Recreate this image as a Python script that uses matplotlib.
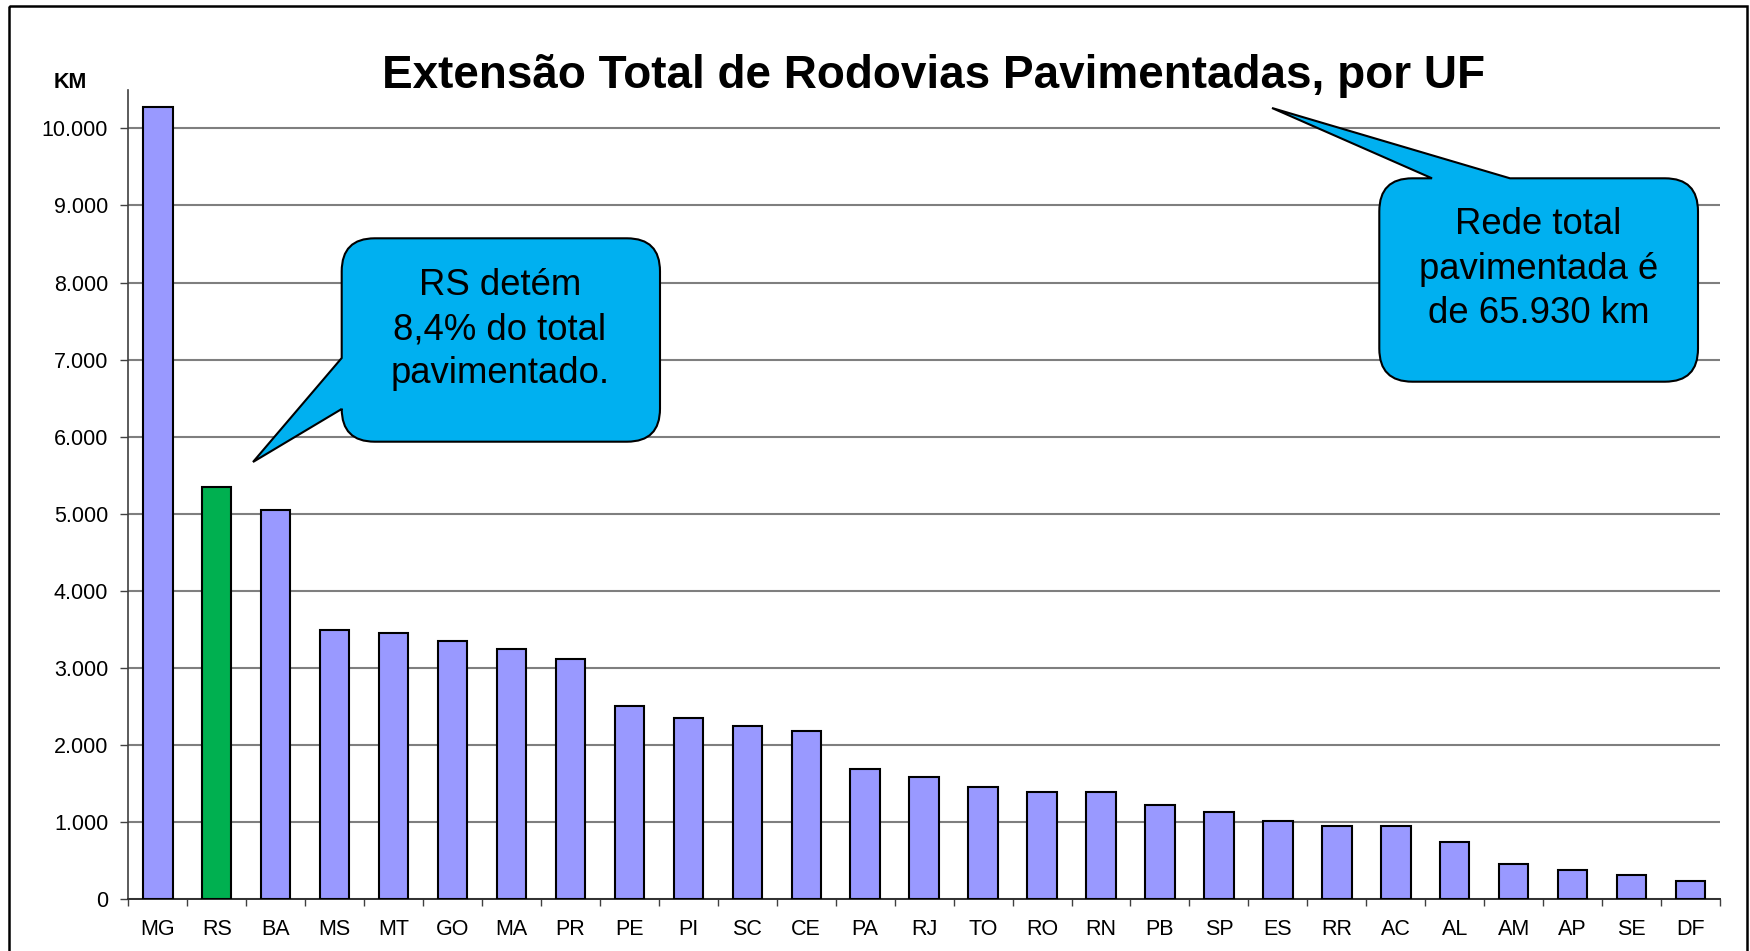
import matplotlib.pyplot as plt
from matplotlib.path import Path
from matplotlib.patches import PathPatch, Rectangle

plt.rcParams['font.family'] = ['Liberation Sans', 'DejaVu Sans']

# dados (km pavimentados por UF)
ufs = ['MG', 'RS', 'BA', 'MS', 'MT', 'GO', 'MA', 'PR', 'PE', 'PI', 'SC', 'CE', 'PA', 'RJ',
       'TO', 'RO', 'RN', 'PB', 'SP', 'ES', 'RR', 'AC', 'AL', 'AM', 'AP', 'SE', 'DF']
km = [10280, 5351, 5049, 3493, 3454, 3354, 3242, 3113, 2511, 2356, 2244, 2183, 1686, 1582,
      1457, 1388, 1388, 1227, 1128, 1016, 955, 955, 747, 458, 384, 315, 241]
destaque = 'RS'
yticks = list(range(0, 10001, 1000))
ylabels = [f'{v:,}'.replace(',', '.') for v in yticks]
titulo = 'Extensão Total de Rodovias Pavimentadas, por UF'
nota_rs = ['RS detém', '8,4% do total', 'pavimentado.']
nota_total = ['Rede total', 'pavimentada é', 'de 65.930 km']

W, H = 1750, 951
fig = plt.figure(figsize=(W / 100, H / 100), dpi=100)
fig.patch.set_facecolor('white')

# eixo principal
x0, x1, ybase, ytop = 128.3, 1720, 899.3, 89.8
ax = fig.add_axes([x0 / W, 1 - ybase / H, (x1 - x0) / W, (ybase - ytop) / H])
cores = ['#00B050' if u == destaque else '#9999FF' for u in ufs]
ax.bar(range(len(ufs)), km, width=0.5, color=cores, edgecolor='black', linewidth=1.5, zorder=3)
ax.set_xlim(-0.5, len(ufs) - 0.5)
ax.set_ylim(0, 10500)
ax.set_yticks(yticks)
ax.set_yticklabels(ylabels)
ax.set_xticks(range(len(ufs)))
ax.set_xticklabels(ufs)
ax.set_xticks([i - 0.5 for i in range(len(ufs) + 1)], minor=True)
ax.yaxis.grid(True, color='#7f7f7f', linewidth=1.5)
ax.set_axisbelow(True)
for s in ['top', 'right']:
    ax.spines[s].set_visible(False)
ax.spines['left'].set_color('#404040')
ax.spines['bottom'].set_color('#303030')
ax.spines['left'].set_linewidth(1.2)
ax.spines['bottom'].set_linewidth(1.4)
ax.tick_params(axis='y', length=5.5, width=1, pad=9, labelsize=15.5, color='#404040')
ax.tick_params(axis='x', which='major', length=0, pad=14, labelsize=15.5)
ax.tick_params(axis='x', which='minor', length=5.3, width=1, color='#404040')

fig.text(933.5 / W, 1 - 88.3 / H, titulo, ha='center', va='baseline',
         fontsize=33, fontweight='bold')
fig.text(70.7 / W, 1 - 82 / H, 'KM', ha='center', va='center', fontsize=15.5, fontweight='bold')

# camada de anotações em pixels (y para baixo)
ov = fig.add_axes([0, 0, 1, 1], zorder=5)
ov.set_xlim(0, W)
ov.set_ylim(H, 0)
ov.axis('off')


def balao(bx0, by0, bx1, by1, r, lado, base, ponta):
    M, L, C = Path.MOVETO, Path.LINETO, Path.CURVE3
    v = [(bx0 + r, by0)]
    c = [M]
    if lado == 'top':
        v += [(base[0], by0), ponta, (base[1], by0)]
        c += [L, L, L]
    v += [(bx1 - r, by0), (bx1, by0), (bx1, by0 + r)]
    c += [L, C, C]
    v += [(bx1, by1 - r), (bx1, by1), (bx1 - r, by1)]
    c += [L, C, C]
    v += [(bx0 + r, by1), (bx0, by1), (bx0, by1 - r)]
    c += [L, C, C]
    if lado == 'left':
        v += [(bx0, base[1]), ponta, (bx0, base[0])]
        c += [L, L, L]
    v += [(bx0, by0 + r), (bx0, by0), (bx0 + r, by0)]
    c += [L, C, C]
    v.append((bx0 + r, by0))
    c.append(Path.CLOSEPOLY)
    return PathPatch(Path(v, c), facecolor='#00B0F0', edgecolor='black', linewidth=1.5)


ov.add_patch(balao(341.7, 238.3, 660, 441.7, 33, 'left', (358, 409), (253, 462)))
ov.add_patch(balao(1379.3, 178.3, 1698, 381.7, 33, 'top', (1432, 1510), (1272, 108)))

for linha, yb in zip(nota_rs, [295, 339, 383]):
    ov.text(500, yb, linha, ha='center', va='baseline', fontsize=26.3)
for linha, yb in zip(nota_total, [234.3, 278.8, 323.3]):
    ov.text(1538.3, yb, linha, ha='center', va='baseline', fontsize=26.3)

# moldura
ov.add_patch(Rectangle((9, 6), 1738, 960, fill=False, edgecolor='black', linewidth=1.8, clip_on=False))

fig.savefig('out.png', dpi=100)
